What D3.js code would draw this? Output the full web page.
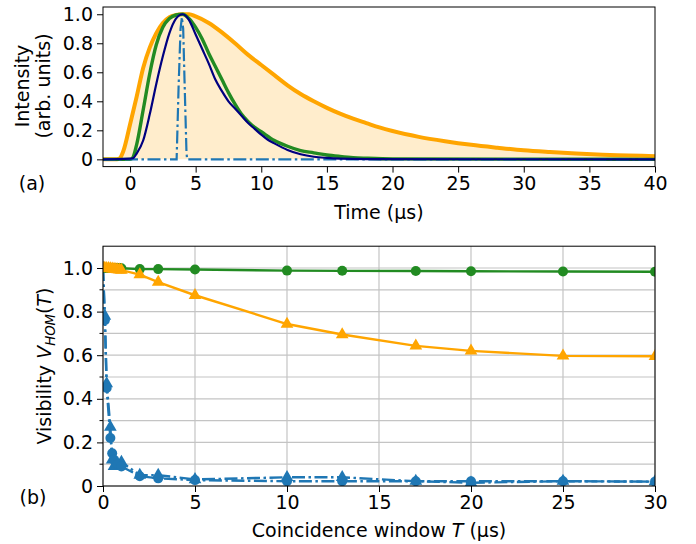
<!DOCTYPE html>
<html><head><meta charset="utf-8">
<script src="https://cdn.jsdelivr.net/npm/d3@7"></script>
<style>
body{margin:0;background:#fff;}
text{font-family:"DejaVu Sans",sans-serif;fill:#000;}
</style></head>
<body><svg id="c" width="696" height="544"></svg>
<script>
// ---------- Panel (a) data ----------
const orangeT = [-2.1,-1,-0.8,-0.5,0,0.5,1,1.5,2,2.5,3,3.5,4,4.5,5,6,7,8,9,10,11,12,13,14,15,16,17,18,19,20,22,24,26,28,30,32,34,36,38,40];
const orangeV = [0,0,0.005,0.06,0.24,0.43,0.63,0.77,0.87,0.94,0.98,0.995,1.0,1.0,0.985,0.94,0.875,0.80,0.72,0.65,0.58,0.51,0.45,0.40,0.355,0.315,0.28,0.25,0.22,0.195,0.155,0.125,0.10,0.08,0.062,0.05,0.04,0.032,0.027,0.022];
const greenT = [-2.1,0,0.2,0.5,1,1.5,2,2.5,3,3.5,4,4.5,5,5.5,6,6.5,7,7.5,8,8.5,9,9.5,10,11,12,13,14,15,16,17,18,20,40];
const greenV = [0,0,0.01,0.10,0.34,0.59,0.79,0.91,0.97,0.995,1.0,0.97,0.91,0.83,0.73,0.64,0.55,0.46,0.38,0.31,0.26,0.22,0.19,0.13,0.09,0.06,0.045,0.03,0.02,0.012,0.008,0.003,0];
const navyT = [-2.1,0,0.25,0.5,1,1.5,2,2.5,3,3.5,4,4.5,5,5.5,6,6.5,7,7.5,8,8.5,9,9.5,10,10.5,11,12,13,14,15,16,18,40];
const navyV = [0,0.005,0.01,0.04,0.13,0.31,0.52,0.71,0.87,0.97,1.0,0.96,0.86,0.76,0.66,0.55,0.47,0.40,0.35,0.30,0.25,0.21,0.17,0.135,0.11,0.065,0.035,0.018,0.01,0.005,0.002,0];
const pulseT = [-2.1,3.55,3.7,3.85,3.95,4.05,4.15,4.3,4.35,40];
const pulseV = [0,0,0.5,0.9,0.98,0.9,0.55,0.05,0,0];
const topXTicks = [0,5,10,15,20,25,30,35,40];
const topYTicks = [0,0.2,0.4,0.6,0.8,1.0];

// ---------- Panel (b) data ----------
const winT = [0,0.1,0.2,0.3,0.4,0.5,0.6,0.7,0.8,0.9,1.0,2,3,5,10,13,17,20,25,30];
const greenVis = [1.0,1.0,1.0,1.0,1.0,1.0,1.0,1.0,1.0,1.0,0.999,0.995,0.995,0.993,0.988,0.987,0.986,0.985,0.984,0.983];
const orangeVis = [1.0,1.0,0.999,0.998,0.997,0.996,0.995,0.994,0.993,0.992,0.99,0.97,0.935,0.875,0.743,0.695,0.643,0.62,0.597,0.595];
const blueWinT = [0,0.1,0.2,0.4,0.5,0.6,0.8,1.0,2,3,5,10,13,17,20,25,30];
const blueCircV = [1.0,0.76,0.45,0.22,0.15,0.12,0.10,0.09,0.045,0.035,0.027,0.022,0.022,0.022,0.022,0.022,0.02];
const blueTriV = [1.0,0.78,0.47,0.27,0.12,0.09,0.10,0.11,0.05,0.05,0.03,0.04,0.04,0.022,0.015,0.022,0.02];
const botXTicks = [0,5,10,15,20,25,30];
const botYTicks = [0,0.2,0.4,0.6,0.8,1.0];
const botYMinor = [0.1,0.3,0.5,0.7,0.9];

const C = {orange:"#ffa500", green:"#228b22", navy:"#000080", blue:"#1f77b4"};
const FS = 19;
const svg = d3.select("#c");
const yfmt = v => v===0 ? "0" : d3.format(".1f")(v);

function styleAxis(g){
  g.selectAll(".domain").remove();
  g.selectAll(".tick line").attr("stroke","#000").attr("stroke-width",1);
  g.selectAll(".tick text").attr("font-size",FS).attr("font-family","DejaVu Sans").attr("fill","#000");
}
function frame(x0,y0,x1,y1){
  svg.append("rect").attr("x",x0).attr("y",y0).attr("width",x1-x0).attr("height",y1-y0)
    .attr("fill","none").attr("stroke","#000").attr("stroke-width",1);
}

// ===== Panel (a) =====
const L=103, R=655;
const xa = d3.scaleLinear().domain([-2.06,40]).range([L,R]);
const ya = d3.scaleLinear().domain([-0.05,1.05]).range([166.6,7]);
svg.append("clipPath").attr("id","ca").append("rect").attr("x",L).attr("y",7).attr("width",R-L).attr("height",159.6);
const ga = svg.append("g").attr("clip-path","url(#ca)");
const zipd = (T,V) => T.map((t,i)=>[t,V[i]]);
const lineA = d3.line().x(d=>xa(d[0])).y(d=>ya(d[1])).curve(d3.curveMonotoneX);
const areaA = d3.area().x(d=>xa(d[0])).y0(ya(0)).y1(d=>ya(d[1])).curve(d3.curveMonotoneX);
ga.append("path").attr("d",areaA(zipd(orangeT,orangeV))).attr("fill",C.orange).attr("fill-opacity",0.2);
ga.append("path").attr("d",lineA(zipd(orangeT,orangeV))).attr("fill","none").attr("stroke",C.orange).attr("stroke-width",4);
ga.append("path").attr("d",lineA(zipd(greenT,greenV))).attr("fill","none").attr("stroke",C.green).attr("stroke-width",3.4);
ga.append("path").attr("d",d3.line().x(d=>xa(d[0])).y(d=>ya(d[1]))(zipd(pulseT,pulseV))).attr("fill","none").attr("stroke",C.blue).attr("stroke-width",2.2).attr("stroke-dasharray","13,3.5,2.5,3.5");
ga.append("path").attr("d",lineA(zipd(navyT,navyV))).attr("fill","none").attr("stroke",C.navy).attr("stroke-width",2.2);
frame(L,7,R,166.6);
const axA = svg.append("g").attr("transform",`translate(0,166.6)`)
  .call(d3.axisBottom(xa).tickValues(topXTicks).tickFormat(d3.format("d")).tickSize(6).tickPadding(4));
styleAxis(axA);
const ayA = svg.append("g").attr("transform",`translate(${L},0)`)
  .call(d3.axisLeft(ya).tickValues(topYTicks).tickFormat(yfmt).tickSize(6).tickPadding(4));
styleAxis(ayA);
svg.append("text").attr("transform","translate(29,86) rotate(-90)").attr("text-anchor","middle").attr("font-size",FS).text("Intensity");
svg.append("text").attr("transform","translate(50,86) rotate(-90)").attr("text-anchor","middle").attr("font-size",FS).text("(arb. units)");
svg.append("text").attr("x",379).attr("y",219).attr("text-anchor","middle").attr("font-size",FS).text("Time (µs)");
svg.append("text").attr("x",32).attr("y",190).attr("text-anchor","middle").attr("font-size",FS).text("(a)");

// ===== Panel (b) =====
const xb = d3.scaleLinear().domain([0,30]).range([L,R]);
const yb = d3.scaleLinear().domain([0,1.1]).range([486,246.2]);
// grid
const gg = svg.append("g");
[...botYTicks,...botYMinor].forEach(v=>{
  gg.append("line").attr("x1",L).attr("x2",R).attr("y1",yb(v)).attr("y2",yb(v)).attr("stroke","#c4c4c4").attr("stroke-width",1.2);
});
botXTicks.forEach(v=>{
  gg.append("line").attr("x1",xb(v)).attr("x2",xb(v)).attr("y1",246.2).attr("y2",486).attr("stroke","#c4c4c4").attr("stroke-width",1.2);
});
svg.append("clipPath").attr("id","cb").append("rect").attr("x",L).attr("y",246.2).attr("width",R-L).attr("height",239.8);
const gb = svg.append("g").attr("clip-path","url(#cb)");
const lineB = d3.line().x(d=>xb(d[0])).y(d=>yb(d[1]));
const tri = d3.symbol().type(d3.symbolTriangle).size(70);
function series(T,V,color,marker,dash){
  const p = gb.append("path").attr("d",lineB(zipd(T,V))).attr("fill","none").attr("stroke",color).attr("stroke-width",2.4);
  if(dash) p.attr("stroke-dasharray",dash);
  zipd(T,V).forEach(d=>{
    if(marker==="o") gb.append("circle").attr("cx",xb(d[0])).attr("cy",yb(d[1])).attr("r",5).attr("fill",color);
    else gb.append("path").attr("d",tri()).attr("transform",`translate(${xb(d[0])},${yb(d[1])})`).attr("fill",color);
  });
}
const dd = "13,3.5,2.5,3.5";
series(blueWinT,blueTriV,C.blue,"^",dd);
series(blueWinT,blueCircV,C.blue,"o",dd);
series(winT,greenVis,C.green,"o",null);
series(winT,orangeVis,C.orange,"^",null);
frame(L,246.2,R,486);
const axB = svg.append("g").attr("transform",`translate(0,486)`)
  .call(d3.axisBottom(xb).tickValues(botXTicks).tickFormat(d3.format("d")).tickSize(6).tickPadding(4));
styleAxis(axB);
const ayB = svg.append("g").attr("transform",`translate(${L},0)`)
  .call(d3.axisLeft(yb).tickValues(botYTicks).tickFormat(yfmt).tickSize(6).tickPadding(4));
styleAxis(ayB);
botYMinor.forEach(v=>{
  svg.append("line").attr("x1",L-3.5).attr("x2",L).attr("y1",yb(v)).attr("y2",yb(v)).attr("stroke","#000").attr("stroke-width",1);
});
const vl = svg.append("text").attr("transform","translate(51,366) rotate(-90)").attr("text-anchor","middle").attr("font-size",FS);
vl.append("tspan").text("Visibility ");
vl.append("tspan").attr("font-style","italic").text("V");
vl.append("tspan").attr("font-style","italic").attr("font-size",FS*0.7).attr("dy",4).text("HOM");
vl.append("tspan").attr("dy",-4).text("(");
vl.append("tspan").attr("font-style","italic").text("T");
vl.append("tspan").text(")");
const xl = svg.append("text").attr("x",379).attr("y",537).attr("text-anchor","middle").attr("font-size",FS);
xl.append("tspan").text("Coincidence window ");
xl.append("tspan").attr("font-style","italic").text("T");
xl.append("tspan").text(" (µs)");
svg.append("text").attr("x",33).attr("y",504).attr("text-anchor","middle").attr("font-size",FS).text("(b)");
</script></body></html>
